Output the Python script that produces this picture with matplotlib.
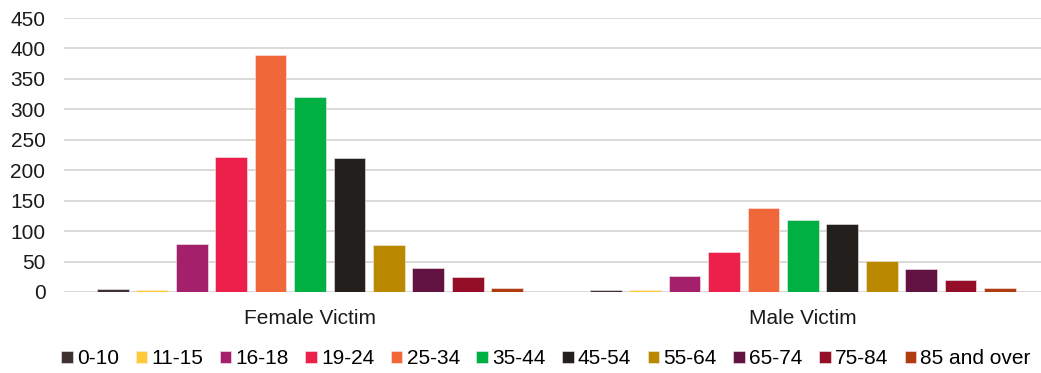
import matplotlib
matplotlib.use("Agg")
import matplotlib.pyplot as plt
import numpy as np

plt.rcParams["font.family"] = ["Liberation Sans", "DejaVu Sans"]

groups = ["Female Victim", "Male Victim"]
age_bands = ["0-10", "11-15", "16-18", "19-24", "25-34", "35-44",
             "45-54", "55-64", "65-74", "75-84", "85 and over"]
female = [5, 4, 79, 222, 389, 320, 220, 77, 40, 24, 7]
male = [3, 3, 27, 66, 138, 118, 112, 51, 37, 20, 7]
colors = ["#3d3131", "#ffc937", "#a5206b", "#ec204b", "#f0683a", "#00b042",
          "#231f1c", "#bb8900", "#631342", "#940e27", "#b03b10"]

fig = plt.figure(figsize=(10.41, 3.73), dpi=100)
# plot area runs past the right edge, so gridlines reach the border
ax = fig.add_axes([0.061, 0.2172, 0.947, 0.7345])

x = np.arange(len(groups))
slot = 0.080
width = 0.0643
n = len(age_bands)
for i, band in enumerate(age_bands):
    off = (i - (n - 1) / 2) * slot
    ax.bar(x + off, [female[i], male[i]], width=width, color=colors[i],
           edgecolor="#f4eeee", linewidth=0.4, label=band, zorder=3)

ax.set_xlim(-0.5, 1.5)
ax.set_ylim(0, 450)
ax.set_yticks(range(0, 451, 50))
ax.set_xticks(x)
ax.set_xticklabels(groups)
ax.yaxis.grid(True, color="#dcd8d6", linewidth=1.4, zorder=0)
for s in ax.spines.values():
    s.set_visible(False)
ax.tick_params(axis="both", length=0, labelsize=15, colors="#1a1a1a")
ax.tick_params(axis="x", pad=12)
ax.tick_params(axis="y", pad=13)

fig.legend(*ax.get_legend_handles_labels(), loc="center",
           bbox_to_anchor=(0.5245, 0.038), ncol=n, frameon=False,
           fontsize=15, handlelength=0.55, handleheight=0.55,
           handletextpad=0.2, columnspacing=0.8, borderaxespad=0,
           borderpad=0)

fig.savefig("out.png", dpi=100)
